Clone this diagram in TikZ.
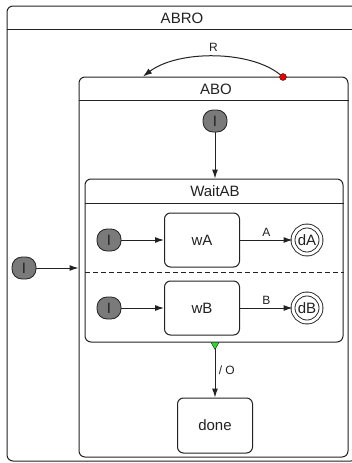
\documentclass[tikz,border=0pt]{standalone}
\usepackage{fontspec}
\setmainfont{Liberation Sans}
\usepackage{xcolor}
\usepackage{tikz}
\usetikzlibrary{arrows.meta,positioning}
\definecolor{scInk}{HTML}{222222}
\definecolor{scInit}{HTML}{7A7A7A}
\definecolor{scEvent}{HTML}{E80000}
\definecolor{scChoice}{HTML}{22E022}
\tikzset{
  sc diagram/.style={font=\fontsize{15}{17}\selectfont, text=scInk,
    line join=round, x=1pt, y=-1pt},
  sc region/.style={draw=scInk, fill=white, line width=1pt,
    rounded corners=6pt, inner sep=0pt},
  sc state/.style={sc region, minimum width=75pt, minimum height=54pt},
  sc init/.style={draw=scInk, fill=scInit, line width=0.8pt,
    rounded corners=10pt, minimum width=24pt, minimum height=22pt, inner sep=0pt},
  sc final/.style={circle, draw=scInk, line width=0.9pt, double=white,
    double distance=3pt, minimum size=28pt, inner sep=0pt},
  sc event/.style={circle, draw=scInk, fill=scEvent, line width=0.4pt,
    minimum size=7pt, inner sep=0pt},
  sc line/.style={draw=scInk, line width=1pt},
  sc arrow/.style={-{Latex[length=9pt,width=6pt]}, draw=scInk, line width=1pt},
  sc label/.style={font=\fontsize{12}{14}\selectfont, text=scInk}
}
\begin{document}
\begin{tikzpicture}[sc diagram]
\useasboundingbox (0,0) rectangle (351,463);
% nested containers
\node[sc region, minimum width=350pt, minimum height=455pt] (abro) at (182,233.5) {};
\node (abroname) at (182,18) {ABRO};
\draw[sc line] (abro.west |- 0,29) -- (abro.east |- 0,29);
\node[sc region, minimum width=269pt, minimum height=380pt] (abo) at (213.5,267) {};
\node (aboname) at (216,89) {ABO};
\draw[sc line] (abo.west |- 0,100) -- (abo.east |- 0,100);
\node[sc region, minimum width=258pt, minimum height=163pt] (waitab) at (214,260.5) {};
\node (waitabname) at (215,191) {WaitAB};
\draw[sc line] (waitab.west |- 0,203) -- (waitab.east |- 0,203);
\draw[sc line, dash pattern=on 5pt off 3pt] (waitab.west |- 0,272) -- (waitab.east |- 0,272);
% initial states
\node[sc init] (abroinit) at (24,268) {I};
\node[sc init] (aboinit) at (215,121) {I};
\draw[sc arrow] (abroinit) -- (abroinit -| abo.west);
\draw[sc arrow] (aboinit) -- (aboinit |- waitab.north);
% the two regions of WaitAB
\foreach \y/\n in {240/A,308/B}{
  \node[sc init] (init\n) at (109,\y) {I};
  \node[sc state] (w\n) at (202,\y) {w\n};
  \node[sc final] (d\n) at (307,\y) {d\n};
  \draw[sc arrow] (init\n) -- (w\n);
  \draw[sc arrow] (w\n) -- node[sc label, above] {\n} (d\n);
}
% reset on R
\node[sc event] (rsource) at (283,77) {};
\coordinate (rtarget) at (abo.north -| 143,0);
\draw[sc arrow] (rsource) .. controls (250,50) and (178,50) .. (rtarget)
  node[sc label, midway, above=1pt] {R};
% completion of WaitAB
\node[sc state, minimum height=55pt] (done) at (215,425.5) {done};
\coordinate (waitabout) at (waitab.south -| done.north);
\draw[sc arrow] (waitabout) -- node[sc label, right] {/ O} (done);
\fill[scChoice, draw=scInk, line width=0.4pt] (waitabout) ++(-4,0) -- ++(8,0) -- ++(-4,7) -- cycle;
\end{tikzpicture}
\end{document}
